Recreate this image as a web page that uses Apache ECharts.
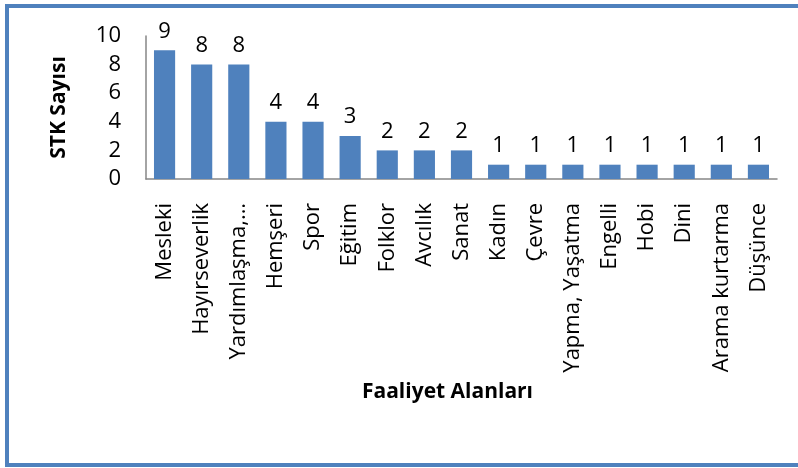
<!DOCTYPE html>
<html>
<head>
<meta charset="utf-8">
<script src="https://cdn.jsdelivr.net/npm/echarts@6/dist/echarts.min.js"></script>
<style>
  html, body { margin: 0; padding: 0; background: #fff; }
  .frame {
    position: absolute; left: 5px; top: 4px; width: 820px; height: 463px;
    box-sizing: border-box; border: 4px solid #4F81BD;
  }
  #chart { position: absolute; left: 0; top: 0; width: 798px; height: 468px; }
</style>
</head>
<body>
<div class="frame"></div>
<div id="chart"></div>
<script>
// Faaliyet alanlarına göre STK sayıları
const categories = [
  'Mesleki', 'Hayırseverlik', 'Yardımlaşma,…', 'Hemşeri', 'Spor', 'Eğitim',
  'Folklor', 'Avcılık', 'Sanat', 'Kadın', 'Çevre', 'Yapma, Yaşatma',
  'Engelli', 'Hobi', 'Dini', 'Arama kurtarma', 'Düşünce'
];
const stkCounts = [9, 8, 8, 4, 4, 3, 2, 2, 2, 1, 1, 1, 1, 1, 1, 1, 1];
const yTicks = [0, 2, 4, 6, 8, 10];

const font = 'Open Sans';
const chart = echarts.init(document.getElementById('chart'));

chart.setOption({
  animation: false,
  textStyle: { fontFamily: font },
  grid: { left: 146, right: 21, top: 36, bottom: 289 },
  xAxis: {
    type: 'category',
    data: categories,
    name: 'Faaliyet Alanları',
    nameLocation: 'middle',
    nameGap: 203,
    nameTextStyle: { fontFamily: font, fontSize: 21, fontWeight: 'bold', color: '#000', padding: [0, 28, 0, 0] },
    axisLine: { lineStyle: { color: '#868686', width: 1.5 } },
    axisTick: { show: false },
    axisLabel: { interval: 0, rotate: 90, margin: 24, fontSize: 22, color: '#000', fontFamily: font }
  },
  yAxis: {
    type: 'value',
    min: yTicks[0],
    max: yTicks[yTicks.length - 1],
    interval: 2,
    name: 'STK Sayısı',
    nameLocation: 'middle',
    nameGap: 76,
    nameTextStyle: { fontFamily: font, fontSize: 21, fontWeight: 'bold', color: '#000' },
    axisLine: { show: true, lineStyle: { color: '#868686', width: 1.5 } },
    axisTick: { show: false },
    splitLine: { show: false },
    axisLabel: { margin: 25, fontSize: 22, color: '#000', fontFamily: font }
  },
  series: [{
    type: 'bar',
    data: stkCounts,
    barCategoryGap: '43%',
    itemStyle: { color: '#4F81BD' },
    label: { show: true, position: 'top', distance: 8, fontSize: 22, color: '#000', fontFamily: font }
  }]
});
</script>
</body>
</html>
